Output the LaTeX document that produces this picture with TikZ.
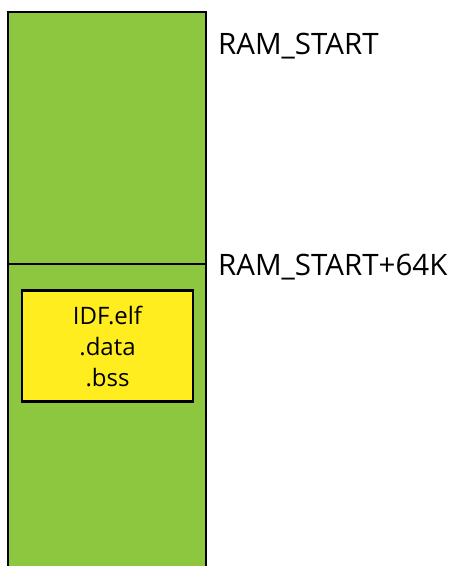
\documentclass[tikz,border=0pt]{standalone}
\usepackage{fontspec}
\setmainfont{Open Sans}
\definecolor{ramgreen}{HTML}{8DC63F}
\definecolor{elfyellow}{HTML}{FFED1F}
\begin{document}
\begin{tikzpicture}[x=1pt, y=-1pt]
    \useasboundingbox (0,0) rectangle (453,566);
    \clip (0,0) rectangle (453,566);
    % RAM regions
    \node[draw, line width=2.5pt, fill=ramgreen, minimum width=198pt, minimum height=252pt, inner sep=0pt] (ram0) at (107, 138) {};
    \node[draw, line width=2.5pt, fill=ramgreen, minimum width=198pt, minimum height=340pt, inner sep=0pt] (ram1) at (107, 434) {};

    % IDF image
    \node[draw, line width=2.5pt, fill=elfyellow, minimum width=171pt, minimum height=111pt, inner sep=0pt, align=center, font=\fontsize{24}{31}\selectfont] (idf) at (107.5, 346) {IDF.elf\\.data\\.bss};

    % Addresses
    \node[anchor=west, inner sep=0pt, font=\fontsize{29.5}{33}\selectfont] (start) at (218, 46) {RAM\_START};
    \node[anchor=west, inner sep=0pt, font=\fontsize{29.5}{33}\selectfont] (start64) at (218, 267) {RAM\_START+64K};
\end{tikzpicture}
\end{document}
